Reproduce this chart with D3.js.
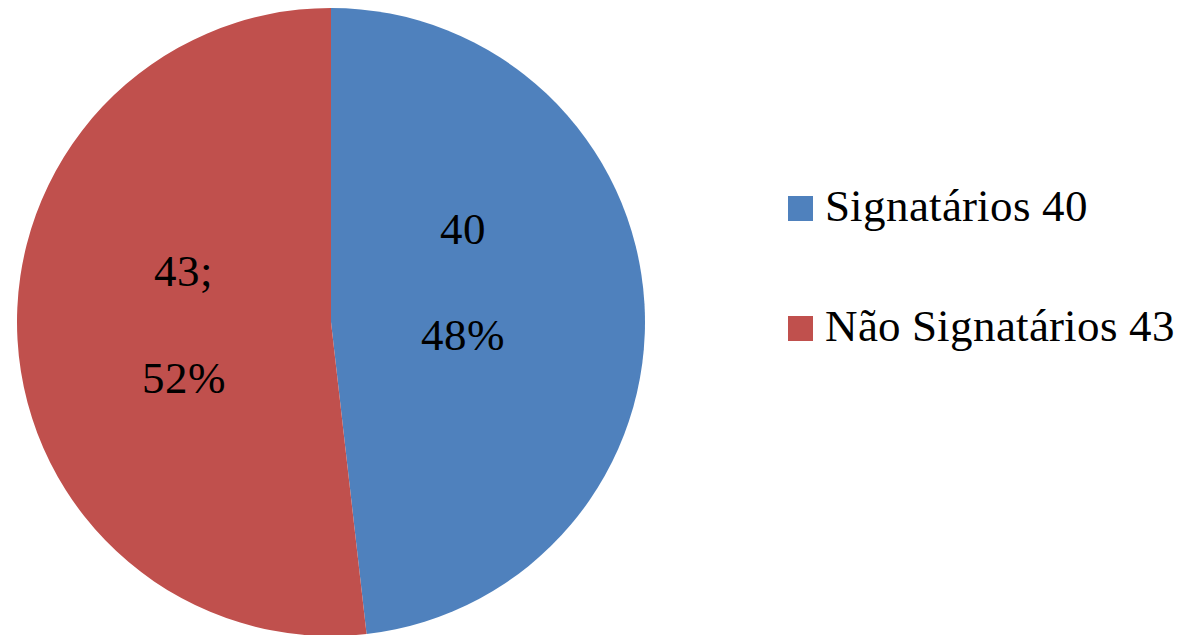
<!DOCTYPE html>
<html>
<head>
<meta charset="utf-8">
<script src="https://cdn.jsdelivr.net/npm/d3@7"></script>
<style>
  @font-face {
    font-family: "ChartSerif";
    src: local("Liberation Serif"), local("LiberationSerif"), local("LiberationSerif-Regular"),
         local("Times New Roman"), local("DejaVu Serif");
  }
  body { margin: 0; background: #fff; }
  svg text { font-family: "ChartSerif", "Liberation Serif", "Times New Roman", serif; }
</style>
</head>
<body>
<script>
// Data
let categories = ["Signatários", "Não Signatários"];
let values = [40, 43];
let colors = ["#4F81BD", "#C0504D"];

let font = '"ChartSerif", "Liberation Serif", "Times New Roman", serif';

function drawChart() {
  let width = 1181;
  let height = 635;
  let cx = 331, cy = 322, radius = 314;

  let svg = d3.select("body")
    .append("svg")
    .attr("width", width)
    .attr("height", height);

  let total = d3.sum(values);
  let pie = d3.pie().sort(null).value(d => d)(values);

  let arc = d3.arc().innerRadius(0).outerRadius(radius);
  let labelArc = d3.arc().innerRadius(140).outerRadius(140);

  let g = svg.append("g").attr("transform", `translate(${cx},${cy})`);

  g.selectAll("path")
    .data(pie)
    .enter()
    .append("path")
    .attr("d", arc)
    .style("fill", (d, i) => colors[i]);

  // slice labels: value on first line, percent on the second
  let labels = g.selectAll("text.lbl")
    .data(pie)
    .enter()
    .append("text")
    .attr("class", "lbl")
    .attr("text-anchor", "middle")
    .style("font-family", font)
    .style("font-size", "45px")
    .attr("transform", d => {
      let [x, y] = labelArc.centroid(d);
      return `translate(${x - 8},${y})`;
    });

  labels.append("tspan")
    .attr("x", 0)
    .attr("y", (d, i) => i == 0 ? -70 : -44)
    .text((d, i) => i == 0 ? `${d.data}` : `${d.data};`);

  labels.append("tspan")
    .attr("x", 0)
    .attr("y", (d, i) => i == 0 ? 36 : 63)
    .text(d => `${Math.round(d.data / total * 100)}%`);

  // legend
  let legend = svg.append("g").attr("transform", "translate(788,196)");
  let item = legend.selectAll("g")
    .data(categories)
    .enter()
    .append("g")
    .attr("transform", (d, i) => `translate(0,${i * 120})`);

  item.append("rect")
    .attr("width", 25)
    .attr("height", 25)
    .style("fill", (d, i) => colors[i]);

  item.append("text")
    .attr("x", 37)
    .attr("y", 25)
    .style("font-family", font)
    .style("font-size", "45px")
    .text((d, i) => `${d} ${values[i]}`);
}

drawChart();
</script>
</body>
</html>
